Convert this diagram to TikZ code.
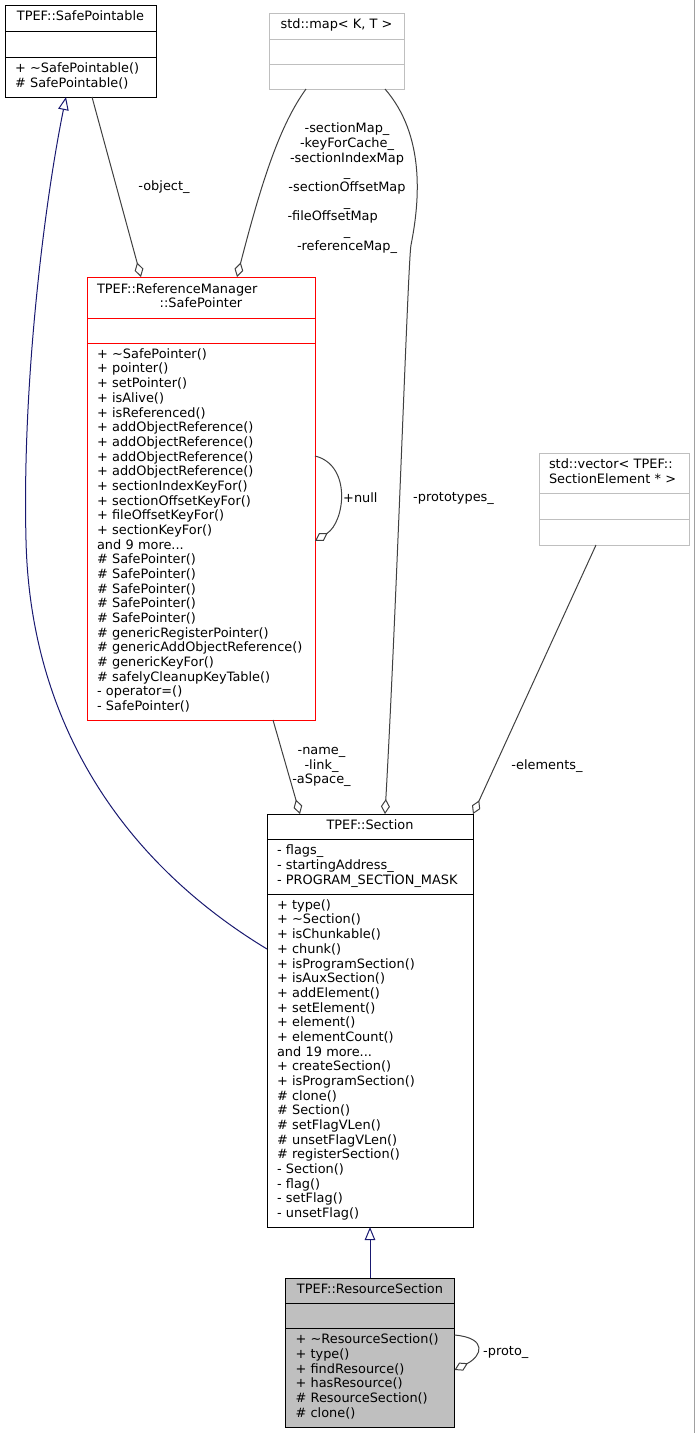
\documentclass[tikz,border=0pt]{standalone}
\usepackage{fontspec}
\setmainfont{DejaVu Sans}
\usetikzlibrary{positioning,arrows.meta}
\definecolor{edgegrey}{HTML}{404040}
\definecolor{inhblue}{HTML}{191970}
\definecolor{boxgrey}{HTML}{BFBFBF}
\definecolor{tplgrey}{HTML}{BFBFBF}
\definecolor{pagegrey}{HTML}{A0A0A0}
\newcommand{\dfont}{\fontsize{12.9}{14.68}\selectfont\hyphenpenalty=10000}
\tikzstyle{cls} = [draw=black, line width=0.9pt, inner sep=0pt, outer sep=0pt, font=\dfont, execute at begin node=\strut, execute at end node=\strut]
\tikzstyle{tpl} = [cls, draw=tplgrey]
\tikzstyle{trunc} = [cls, draw=red]
\tikzstyle{focus} = [cls, fill=boxgrey]
\tikzstyle{members} = [align=left, inner xsep=10pt]
\tikzstyle{assoc} = [draw=edgegrey, line width=1pt, -{Diamond[open, length=15pt, width=9pt]}]
\tikzstyle{inherit} = [draw=inhblue, line width=1pt, -{Triangle[open, length=13pt, width=10.5pt]}]
\tikzstyle{lbl} = [font=\dfont, inner sep=0pt, align=center]

\begin{document}
\begin{tikzpicture}[x=1pt, y=-1pt]
	\useasboundingbox (0,0) rectangle (695,1433);
	\draw [pagegrey, line width=1pt] (694,0) -- (694,1433);
	
	% TPEF::SafePointable
	\node [cls, anchor=north west, minimum width=151pt, minimum height=26pt] (spa_name) at (5,5) {TPEF::SafePointable};
	\node [cls, below=0pt of spa_name, minimum width=151pt, minimum height=26pt] (spa_attr) {};
	\node [cls, members, below=0pt of spa_attr, text width=131pt, minimum height=40pt] (spa_ops) {+ \textasciitilde SafePointable()\\\# SafePointable()};
	
	% std::map
	\node [tpl, anchor=north west, minimum width=135pt, minimum height=26pt] (map_name) at (269,13) {std::map< K, T >};
	\node [tpl, below=0pt of map_name, minimum width=135pt, minimum height=25pt] (map_attr) {};
	\node [tpl, below=0pt of map_attr, minimum width=135pt, minimum height=25pt] (map_ops) {};
	
	% TPEF::ReferenceManager::SafePointer
	\node [trunc, members, anchor=north west, text width=208pt, minimum height=41pt] (sp_name) at (87,277) {TPEF::ReferenceManager\\\makebox[208pt][c]{::SafePointer}};
	\node [trunc, below=0pt of sp_name, minimum width=228pt, minimum height=25pt] (sp_attr) {};
	\node [trunc, members, below=0pt of sp_attr, text width=208pt, minimum height=377pt] (sp_ops) {+ \textasciitilde SafePointer()\\+ pointer()\\+ setPointer()\\+ isAlive()\\+ isReferenced()\\+ addObjectReference()\\+ addObjectReference()\\+ addObjectReference()\\+ addObjectReference()\\+ sectionIndexKeyFor()\\+ sectionOffsetKeyFor()\\+ fileOffsetKeyFor()\\+ sectionKeyFor()\\and 9 more...\\\# SafePointer()\\\# SafePointer()\\\# SafePointer()\\\# SafePointer()\\\# SafePointer()\\\# genericRegisterPointer()\\\# genericAddObjectReference()\\\# genericKeyFor()\\\# safelyCleanupKeyTable()\\- operator=()\\- SafePointer()};
	\draw [red, line width=0.9pt] (sp_ops.north west) -- (sp_ops.north east);
	
	% std::vector
	\node [tpl, members, anchor=north west, text width=130pt, minimum height=40pt] (vec_name) at (539,453) {std::vector< TPEF::\\SectionElement * >};
	\node [tpl, below=0pt of vec_name, minimum width=150pt, minimum height=26pt] (vec_attr) {};
	\node [tpl, below=0pt of vec_attr, minimum width=150pt, minimum height=26pt] (vec_ops) {};
	
	% TPEF::Section
	\node [cls, anchor=north west, minimum width=206pt, minimum height=25pt] (sec_name) at (267,814) {TPEF::Section};
	\node [cls, members, below=0pt of sec_name, text width=186pt, minimum height=55pt] (sec_attr) {- flags\_\\- startingAddress\_\\- PROGRAM\_SECTION\_MASK};
	\node [cls, members, below=0pt of sec_attr, text width=186pt, minimum height=333pt] (sec_ops) {+ type()\\+ \textasciitilde Section()\\+ isChunkable()\\+ chunk()\\+ isProgramSection()\\+ isAuxSection()\\+ addElement()\\+ setElement()\\+ element()\\+ elementCount()\\and 19 more...\\+ createSection()\\+ isProgramSection()\\\# clone()\\\# Section()\\\# setFlagVLen()\\\# unsetFlagVLen()\\\# registerSection()\\- Section()\\- flag()\\- setFlag()\\- unsetFlag()};
	
	% TPEF::ResourceSection
	\node [focus, anchor=north west, minimum width=169pt, minimum height=25pt] (rs_name) at (285.5,1278) {TPEF::ResourceSection};
	\node [focus, below=0pt of rs_name, minimum width=169pt, minimum height=25pt] (rs_attr) {};
	\node [focus, members, below=0pt of rs_attr, text width=149pt, minimum height=99pt] (rs_ops) {+ \textasciitilde ResourceSection()\\+ type()\\+ findResource()\\+ hasResource()\\\# ResourceSection()\\\# clone()};
	
	% inheritance
	\path [inherit] ([yshift=-55pt]sec_ops.north west) .. controls (120,860) and (30,720) .. (26,540) .. controls (22,380) and (45,200) .. ([xshift=61pt]spa_ops.south west);
	\path [inherit] (rs_name.north) to (sec_ops.south);
	
	% members
	\path [assoc] ([xshift=87pt]spa_ops.south west) to ([xshift=54pt]sp_name.north west);
	\node [lbl] (obj_lbl) at (164,187) {-object\_};
	
	\path [assoc] ([xshift=37pt]map_ops.south west) .. controls (280,125) and (262,180) .. ([xshift=150pt]sp_name.north west);
	\node [lbl] (map_lbl) at (347,188) {-sectionMap\_\\-keyForCache\_\\-sectionIndexMap\\\_\\-sectionOffsetMap\\\_\\\makebox[119pt][l]{-fileOffsetMap}\\\_\\-referenceMap\_};
	
	\path [assoc] ([xshift=116pt]map_ops.south west) .. controls (425,135) and (420,200) .. (411,245) .. controls (408,260) and (397,600) .. ([xshift=118pt]sec_name.north west);
	\node [lbl, anchor=west] (proto_lbl) at (413,498) {-prototypes\_};
	
	\path [assoc] ([xshift=186pt]sp_ops.south west) to ([xshift=33pt]sec_name.north west);
	\node [lbl] (name_lbl) at (321.5,767) {-name\_\\-link\_\\-aSpace\_};
	
	\path [assoc] ([xshift=57pt]vec_ops.south west) to (sec_name.north east);
	\node [lbl] (elem_lbl) at (547,766.5) {-elements\_};
	
	\path [assoc] ([yshift=-113pt]sp_ops.north east) .. controls (352,465) and (345,522) .. ([yshift=-198pt]sp_ops.north east);
	\node [lbl, anchor=west] (null_lbl) at (343,498) {+null};
	
	\path [assoc] ([yshift=-7pt]rs_ops.north east) .. controls (488,1338) and (482,1356) .. ([yshift=-42pt]rs_ops.north east);
	\node [lbl, anchor=west] (self_lbl) at (483,1352) {-proto\_};
\end{tikzpicture}
\end{document}
